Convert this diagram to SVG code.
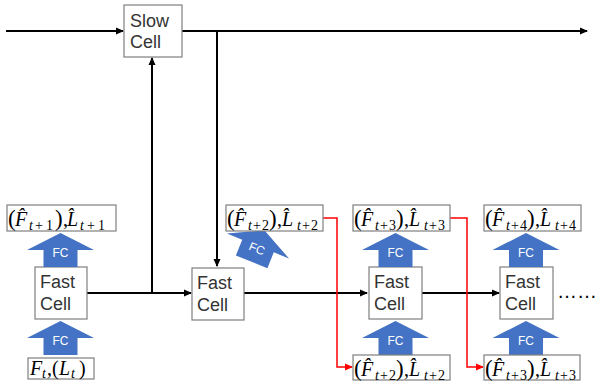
<svg xmlns="http://www.w3.org/2000/svg" xmlns:xlink="http://www.w3.org/1999/xlink" width="601" height="388" viewBox="0 0 601 388">
<style>
.box{fill:#fff;stroke:#7f7f7f;stroke-width:1.2}
.lbl{fill:#fff;stroke:#7f7f7f;stroke-width:1.2}
.cell{font-family:"Liberation Sans",sans-serif;font-size:18px;fill:#333}
.blk{fill:none;stroke:#000;stroke-width:2}
.red{fill:none;stroke:#ff0000;stroke-width:1.5}
.fc{fill:#4472c4}
.fct{font-family:"Liberation Sans",sans-serif;font-size:12px;fill:#fff;text-anchor:middle}
.m{font-family:"Liberation Serif","DejaVu Serif",serif;font-size:20px;fill:#000}
.p{font-size:23px}
.i{font-style:italic}
.s{font-size:14px}
.dots{font-family:"Liberation Sans",sans-serif;font-size:20px;fill:#000}
</style>
<defs>
<marker id="ab" markerWidth="8" markerHeight="8" refX="7" refY="4" orient="auto" markerUnits="userSpaceOnUse"><path d="M0,0.5 L8,4 L0,7.5 Z" fill="#000"/></marker>
<marker id="ar" markerWidth="8" markerHeight="8" refX="7" refY="4" orient="auto" markerUnits="userSpaceOnUse"><path d="M0,0.5 L8,4 L0,7.5 Z" fill="#ff0000"/></marker>
<path id="fcarrow" class="fc" d="M0,-17 L33.5,0 L17,0 L17,17 L-17,17 L-17,0 L-33.5,0 Z"/>
</defs>

<g id="connectors">
<line class="blk" x1="6" y1="31" x2="123" y2="31" marker-end="url(#ab)"/>
<line class="blk" x1="182" y1="31" x2="587" y2="31" marker-end="url(#ab)"/>
<line class="blk" x1="217" y1="31" x2="217" y2="266" marker-end="url(#ab)"/>
<line class="blk" x1="152" y1="293" x2="152" y2="58" marker-end="url(#ab)"/>
<line class="blk" x1="87" y1="293" x2="191" y2="293" marker-end="url(#ab)"/>
<line class="blk" x1="244" y1="293" x2="367" y2="293" marker-end="url(#ab)"/>
<line class="blk" x1="422" y1="293" x2="499" y2="293" marker-end="url(#ab)"/>
<polyline class="red" points="323,218 337,218 337,367 352,367" marker-end="url(#ar)"/>
<polyline class="red" points="450,218 467,218 467,367 483,367" marker-end="url(#ar)"/>
</g>

<g id="slow-cell">
<rect class="box" x="124" y="5" width="58" height="52"/>
<text class="cell" x="130" y="27">Slow</text>
<text class="cell" x="130" y="48">Cell</text>
</g>

<g id="fast-cell-1">
<rect class="box" x="35" y="267" width="52" height="52"/>
<text class="cell" x="40" y="288">Fast</text>
<text class="cell" x="40" y="310">Cell</text>
</g>
<g id="fast-cell-2">
<rect class="box" x="192" y="268" width="52" height="52"/>
<text class="cell" x="197" y="289">Fast</text>
<text class="cell" x="197" y="311">Cell</text>
</g>
<g id="fast-cell-3">
<rect class="box" x="369" y="267" width="53" height="52"/>
<text class="cell" x="374" y="288">Fast</text>
<text class="cell" x="374" y="310">Cell</text>
</g>
<g id="fast-cell-4">
<rect class="box" x="500" y="267" width="53" height="52"/>
<text class="cell" x="505" y="288">Fast</text>
<text class="cell" x="505" y="310">Cell</text>
</g>

<g id="fc-1-top" transform="translate(60.5,250)"><use xlink:href="#fcarrow"/><text class="fct" x="0" y="7">FC</text></g>
<g id="fc-1-bot" transform="translate(60.5,338)"><use xlink:href="#fcarrow"/><text class="fct" x="0" y="7">FC</text></g>
<g id="fc-2" transform="translate(258,246) rotate(22)"><use xlink:href="#fcarrow"/><text class="fct" x="0" y="7">FC</text></g>
<g id="fc-3-top" transform="translate(395.5,250)"><use xlink:href="#fcarrow"/><text class="fct" x="0" y="7">FC</text></g>
<g id="fc-3-bot" transform="translate(395.5,338)"><use xlink:href="#fcarrow"/><text class="fct" x="0" y="7">FC</text></g>
<g id="fc-4-top" transform="translate(526,250)"><use xlink:href="#fcarrow"/><text class="fct" x="0" y="7">FC</text></g>
<g id="fc-4-bot" transform="translate(526,338)"><use xlink:href="#fcarrow"/><text class="fct" x="0" y="7">FC</text></g>

<g id="out-t1">
<rect class="lbl" x="7" y="205" width="109" height="26"/>
<text class="m" y="226"><tspan x="8" class="p">(</tspan><tspan x="15" class="i">F̂</tspan><tspan x="29" y="230" class="s i">t</tspan><tspan x="35" y="230" class="s">+</tspan><tspan x="46" y="230" class="s">1</tspan><tspan x="55" y="226" class="p">)</tspan><tspan x="63">,</tspan><tspan x="67" class="i">L̂</tspan><tspan x="80" y="230" class="s i">t</tspan><tspan x="87" y="230" class="s">+</tspan><tspan x="98" y="230" class="s">1</tspan></text>
</g>
<g id="in-t">
<rect class="lbl" x="28" y="358" width="66" height="21"/>
<text class="m" y="375"><tspan x="30" class="i">F</tspan><tspan x="42" y="378" class="s i">t</tspan><tspan x="47" y="375">,</tspan><tspan x="52">(</tspan><tspan x="59" class="i">L</tspan><tspan x="71" y="378" class="s i">t</tspan><tspan x="79" y="375">)</tspan></text>
</g>
<g id="out-t2">
<rect class="lbl" x="226" y="205" width="97" height="26"/>
<text class="m" y="226"><tspan x="227" class="p">(</tspan><tspan x="234" class="i">F̂</tspan><tspan x="248" y="230" class="s i">t</tspan><tspan x="253" y="230" class="s">+</tspan><tspan x="262" y="230" class="s">2</tspan><tspan x="269" y="226" class="p">)</tspan><tspan x="277">,</tspan><tspan x="282" class="i">L̂</tspan><tspan x="297" y="230" class="s i">t</tspan><tspan x="302" y="230" class="s">+</tspan><tspan x="311" y="230" class="s">2</tspan></text>
</g>
<g id="out-t3">
<rect class="lbl" x="353" y="205" width="97" height="26"/>
<text class="m" y="226"><tspan x="354" class="p">(</tspan><tspan x="361" class="i">F̂</tspan><tspan x="375" y="230" class="s i">t</tspan><tspan x="380" y="230" class="s">+</tspan><tspan x="389" y="230" class="s">3</tspan><tspan x="396" y="226" class="p">)</tspan><tspan x="404">,</tspan><tspan x="409" class="i">L̂</tspan><tspan x="424" y="230" class="s i">t</tspan><tspan x="429" y="230" class="s">+</tspan><tspan x="438" y="230" class="s">3</tspan></text>
</g>
<g id="out-t4">
<rect class="lbl" x="484" y="205" width="97" height="26"/>
<text class="m" y="226"><tspan x="485" class="p">(</tspan><tspan x="492" class="i">F̂</tspan><tspan x="506" y="230" class="s i">t</tspan><tspan x="511" y="230" class="s">+</tspan><tspan x="520" y="230" class="s">4</tspan><tspan x="527" y="226" class="p">)</tspan><tspan x="535">,</tspan><tspan x="540" class="i">L̂</tspan><tspan x="555" y="230" class="s i">t</tspan><tspan x="560" y="230" class="s">+</tspan><tspan x="569" y="230" class="s">4</tspan></text>
</g>
<g id="in-t2">
<rect class="lbl" x="353" y="355" width="97" height="25"/>
<text class="m" y="376"><tspan x="354" class="p">(</tspan><tspan x="361" class="i">F̂</tspan><tspan x="375" y="380" class="s i">t</tspan><tspan x="380" y="380" class="s">+</tspan><tspan x="389" y="380" class="s">2</tspan><tspan x="396" y="376" class="p">)</tspan><tspan x="404">,</tspan><tspan x="409" class="i">L̂</tspan><tspan x="424" y="380" class="s i">t</tspan><tspan x="429" y="380" class="s">+</tspan><tspan x="438" y="380" class="s">2</tspan></text>
</g>
<g id="in-t3">
<rect class="lbl" x="484" y="355" width="96" height="25"/>
<text class="m" y="376"><tspan x="485" class="p">(</tspan><tspan x="492" class="i">F̂</tspan><tspan x="506" y="380" class="s i">t</tspan><tspan x="511" y="380" class="s">+</tspan><tspan x="520" y="380" class="s">3</tspan><tspan x="527" y="376" class="p">)</tspan><tspan x="535">,</tspan><tspan x="540" class="i">L̂</tspan><tspan x="555" y="380" class="s i">t</tspan><tspan x="560" y="380" class="s">+</tspan><tspan x="569" y="380" class="s">3</tspan></text>
</g>

<text id="ellipsis" class="dots" x="557" y="298">……</text>
</svg>
